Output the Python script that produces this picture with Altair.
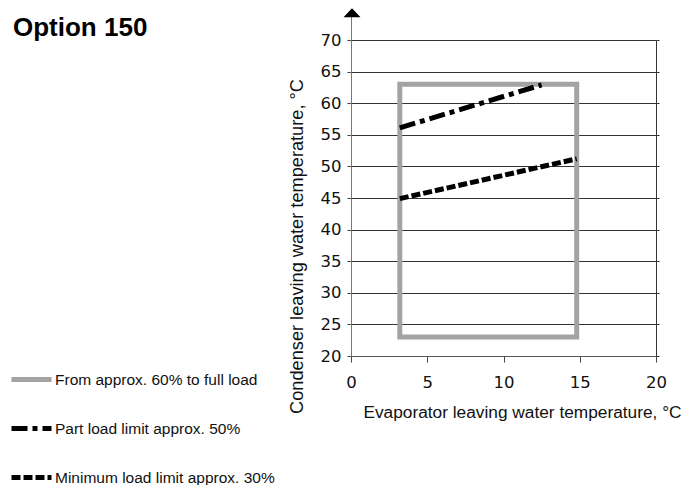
import altair as alt
import pandas as pd

# ---- data ----
series = [
    "From approx. 60% to full load",
    "Part load limit approx. 50%",
    "Minimum load limit approx. 30%",
]
full_x = [3.2, 3.2, 14.8, 14.8, 3.2]
full_y = [23, 63, 63, 23, 23]
part_x = [3.2, 12.5]
part_y = [56.1, 62.9]
min_x = [3.2, 14.8]
min_y = [44.9, 51.2]
x_ticks = [0, 5, 10, 15, 20]
y_ticks = [20, 25, 30, 35, 40, 45, 50, 55, 60, 65, 70]
title_text = "Option 150"
x_title = "Evaporator leaving water temperature, °C"
y_title = "Condenser leaving water temperature, °C"

rows = []
for s, xs, ys in zip(series, [full_x, part_x, min_x], [full_y, part_y, min_y]):
    for i, (a, b) in enumerate(zip(xs, ys)):
        rows.append({"series": s, "evap": a, "cond": b, "idx": i})
df = pd.DataFrame(rows)

x_scale = alt.Scale(domain=[0, 20], nice=False, zero=False)
y_scale = alt.Scale(domain=[20, 70], nice=False, zero=False)

TICK_FONT = "DejaVu Sans"
TEXT_FONT = "Liberation Sans"

legend = alt.Legend(
    title=None, orient="none", legendX=-342, legendY=317,
    symbolType="stroke", symbolSize=1600, symbolStrokeWidth=5,
    labelFont=TEXT_FONT, labelFontSize=15.5, labelColor="#111",
    labelOffset=1, rowPadding=16, padding=0, labelLimit=400,
)

x_enc = alt.X(
    "evap:Q", scale=x_scale,
    axis=alt.Axis(
        values=x_ticks, title=x_title, grid=False,
        tickSize=6, tickColor="#444", domainColor="#555",
        labelFont=TICK_FONT, labelFontSize=16.5, labelColor="#111",
        labelBaseline="alphabetic", labelPadding=25, labelFlush=False,
        titleFont=TEXT_FONT, titleFontSize=17.3, titleFontWeight="normal",
        titleColor="#111", titleX=171, titleY=61, titleAlign="center",
        titleBaseline="alphabetic",
    ),
)

y_main_axis = alt.Axis(
    values=y_ticks, title=y_title, grid=True, gridColor="#333", gridWidth=1,
    tickSize=4, tickColor="#444", domainColor="#777",
    labelFont=TICK_FONT, labelFontSize=16.5, labelColor="#111",
    labelPadding=6, labelFlush=False,
    titleFont=TEXT_FONT, titleFontSize=18.2, titleFontWeight="normal",
    titleColor="#111", titleX=-49, titleY=206, titleAngle=270,
    titleAlign="center", titleBaseline="alphabetic",
)
y_right_axis = alt.Axis(
    orient="right", values=y_ticks, title=None, labels=False, grid=False,
    tickSize=3, tickColor="#333", domainColor="#333",
)

color = alt.Color(
    "series:N", sort=series,
    scale=alt.Scale(domain=series, range=["#a3a3a3", "#000000", "#000000"]),
    legend=legend,
)
dash = alt.StrokeDash(
    "series:N", sort=series,
    scale=alt.Scale(domain=series, range=[[1, 0], [16, 5, 5, 5], [9, 3]]),
    legend=legend,
)

base = alt.Chart(df).encode(x=x_enc, color=color, strokeDash=dash, order="idx:Q")

box = base.transform_filter(alt.datum.series == series[0]).mark_line(
    strokeWidth=5, strokeCap="square", strokeJoin="miter"
).encode(y=alt.Y("cond:Q", scale=y_scale, axis=y_main_axis))

part = base.transform_filter(alt.datum.series == series[1]).mark_line(
    strokeWidth=5, strokeCap="butt"
).encode(y=alt.Y("cond:Q", scale=y_scale, axis=y_right_axis))

mini = base.transform_filter(alt.datum.series == series[2]).mark_line(
    strokeWidth=5, strokeCap="butt"
).encode(y=alt.Y("cond:Q", scale=y_scale, axis=None))

one = alt.Data(values=[{}])
axis_ext = alt.Chart(one).mark_rule(color="#777", strokeWidth=1).encode(
    x=alt.value(0.5), y=alt.value(0), y2=alt.value(-23)
)
arrow = alt.Chart(one).mark_point(
    shape="M-1,0.25L0,-0.8L1,0.25Z", filled=True, color="#000", opacity=1, size=289
).encode(x=alt.value(1), y=alt.value(-25))
title = alt.Chart(one).mark_text(
    text=title_text, font=TEXT_FONT, fontSize=26, fontWeight="bold",
    color="#000", align="left", baseline="alphabetic",
).encode(x=alt.value(-338), y=alt.value(-4))

chart = (
    alt.layer(box, part, mini, axis_ext, arrow, title)
    .resolve_axis(y="independent")
    .properties(
        width=305, height=316,
        autosize=alt.AutoSizeParams(type="none"),
        padding={"left": 343, "top": 32, "right": 35, "bottom": 129},
        background="white",
    )
    .configure_view(stroke=None)
)

chart.save("out.html", embed_options={"renderer": "svg", "actions": False})
